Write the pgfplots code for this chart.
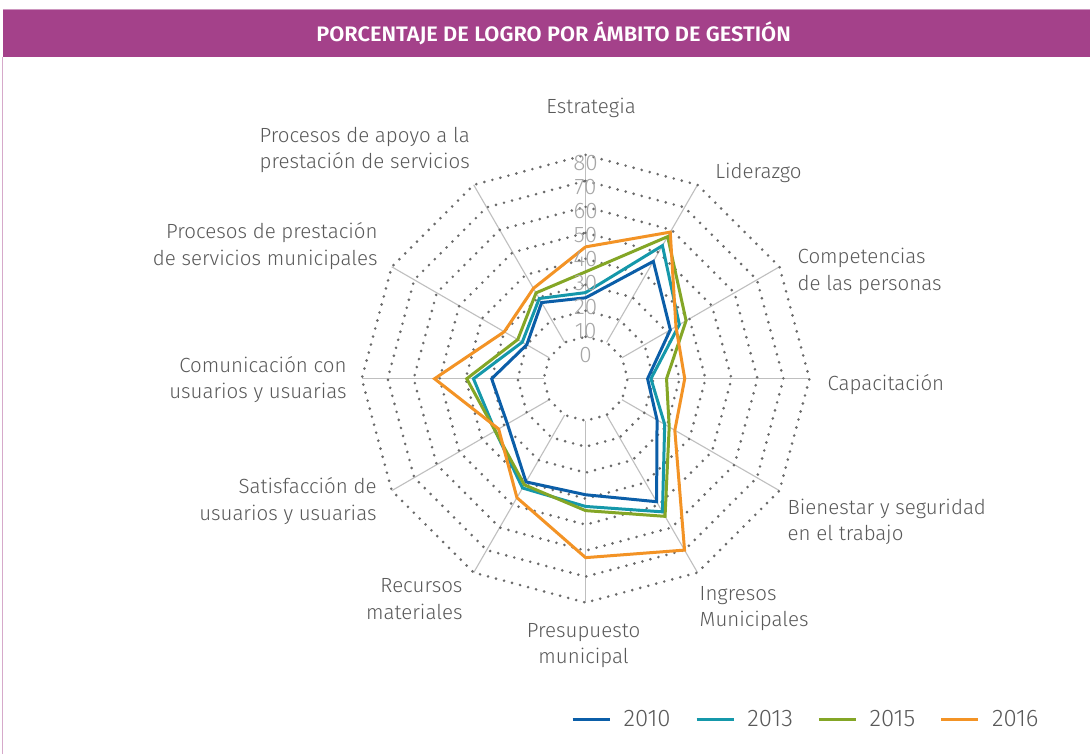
\documentclass[border=0pt]{standalone}
\usepackage{pgfplots}
\pgfplotsset{compat=1.18}
\usepackage{pgfplotstable}
\usepackage{fontspec}
\setmainfont{Fira Sans}[UprightFont={* Light}, BoldFont={* SemiBold}]
\definecolor{c2010}{HTML}{0B5EA8}
\definecolor{c2013}{HTML}{1598AA}
\definecolor{c2015}{HTML}{84A626}
\definecolor{c2016}{HTML}{F39325}
\definecolor{band}{HTML}{A4418A}
\definecolor{txt}{HTML}{595959}
\definecolor{tick}{HTML}{A6A6A6}
\definecolor{ringc}{HTML}{6A6A6A}
\definecolor{spokec}{HTML}{BFBFBF}

% values per area, clockwise from "Estrategia"; last row closes the polygon
\pgfplotstableread{
i  a     b     c     d
0  25    27    35    44.6
1  46    53    57    59
2  31.5  35.5  38.5  34
3  17.7  19    25    32
4  25.6  29    31    33.5
5  48.5  53    55    70
6  38.5  43    44.6  62.7
7  39.7  42.4  41    46.7
8  28.6  34    34    32.5
9  30    37    39.6  52
10 20    22    24    30
11 27.7  29.5  32    34
12 25    27    35    44.6
}\data

\pgfplotstableread{
i  z
0  0
1  0
2  0
3  0
4  0
5  0
6  0
7  0
8  0
9  0
10 0
11 0
12 0
}\angles

\pgfplotstableread{
r  z
10 0
80 0
}\spokes

\begin{document}
\begin{tikzpicture}
\begin{axis}[
  x=1pt, y=1pt,
  xmin=-586, xmax=505, ymin=-376, ymax=379,
  enlargelimits=false,
  hide axis, clip=false,
  legend columns=4,
  legend image code/.code={\draw[#1, line width=2.8pt] (0pt,0pt) -- (37pt,0pt);},
  legend style={draw=none, fill=none, inner sep=0pt,
    at={(0.5238,0.0464)}, anchor=west,
    font=\fontsize{24}{28}\selectfont, text=txt,
    nodes={inner xsep=5.5pt, inner ysep=2pt},
    /tikz/every odd column/.append style={column sep=7pt},
    /tikz/every even column/.append style={column sep=19pt}},
  ring/.style={ringc, line width=2.9pt, dash pattern=on 0pt off 8.3pt, line cap=round},
  spoke/.style={spokec, line width=1.1pt},
  series/.style={line width=3pt, line join=miter, mark=none},
]
\fill[white] (axis cs:-586,-376) rectangle (axis cs:505,379);
% header band
\fill[band] (axis cs:-583,369) rectangle (axis cs:505,322);
\draw[color=band!55, line width=1.5pt] (axis cs:-583,369.5) -- (axis cs:505,369.5);
\draw[color=band!45, line width=1pt] (axis cs:-583,322) -- (axis cs:-583,-376);
\node[text=white, font=\bfseries\fontsize{21}{24}\selectfont] at (axis cs:-32,345.5)
  {\scalebox{1.04}[1]{PORCENTAJE DE LOGRO POR ÁMBITO DE GESTIÓN}};

% grid
\pgfplotsinvokeforeach{0,...,11}{
  \addplot[spoke, forget plot] table[data cs=polar, x expr={90-30*#1}, y expr={2.6*(\thisrow{r}+6.154)}] {\spokes};
}
\pgfplotsinvokeforeach{10,20,30,40,50,60,70,80}{
  \addplot[ring, forget plot] table[data cs=polar, x expr={90-30*\thisrow{i}}, y expr={2.6*(#1+6.154)}] {\angles};
}

% series
\addplot[series, c2010] table[data cs=polar, x expr={90-30*\thisrow{i}}, y expr={2.6*(\thisrow{a}+6.154)}] {\data};
\addlegendentry{2010}
\addplot[series, c2013] table[data cs=polar, x expr={90-30*\thisrow{i}}, y expr={2.6*(\thisrow{b}+6.154)}] {\data};
\addlegendentry{2013}
\addplot[series, c2015] table[data cs=polar, x expr={90-30*\thisrow{i}}, y expr={2.6*(\thisrow{c}+6.154)}] {\data};
\addlegendentry{2015}
\addplot[series, c2016] table[data cs=polar, x expr={90-30*\thisrow{i}}, y expr={2.6*(\thisrow{d}+6.154)}] {\data};
\addlegendentry{2016}

% radial tick labels
\begin{scope}[every node/.style={text=tick, font=\fontsize{22.5}{24}\selectfont, inner sep=0pt}]
\node at (axis cs:0,24) {0};
\node at (axis cs:0,48) {10};
\node at (axis cs:0,72) {20};
\node at (axis cs:0,96) {30};
\node at (axis cs:0,120) {40};
\node at (axis cs:0,144) {50};
\node at (axis cs:0,168) {60};
\node at (axis cs:0,192) {70};
\node at (axis cs:0,216) {80};
\end{scope}

% category labels
\begin{scope}[every node/.style={text=txt, font=\fontsize{20.5}{26.5}\selectfont, inner sep=0pt}]
\node at (axis cs:5.5,271) {Estrategia};
\node at (axis cs:173,206) {Liderazgo};
\node[anchor=west, align=left] at (axis cs:212,107.5) {Competencias\\de las personas};
\node[anchor=west] at (axis cs:242,-6) {Capacitación};
\node[anchor=west, align=left] at (axis cs:202,-143) {Bienestar y seguridad\\en el trabajo};
\node[anchor=west, align=left] at (axis cs:114,-230) {Ingresos\\Municipales};
\node[align=center] at (axis cs:-2,-267) {Presupuesto\\municipal};
\node[anchor=east, align=right] at (axis cs:-123,-220.5) {Recursos\\materiales};
\node[anchor=east, align=right] at (axis cs:-209,-122.5) {Satisfacción de\\usuarios y usuarias};
\node[anchor=east, align=right] at (axis cs:-239,-1) {Comunicación con\\usuarios y usuarias};
\node[anchor=east, align=right] at (axis cs:-208,132.5) {Procesos de prestación\\de servicios municipales};
\node[align=center] at (axis cs:-221,229) {Procesos de apoyo a la\\prestación de servicios};
\end{scope}
\end{axis}
\end{tikzpicture}
\end{document}
